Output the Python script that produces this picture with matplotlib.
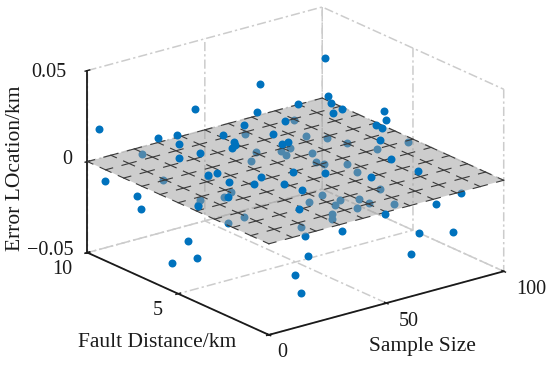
import numpy as np
import matplotlib
matplotlib.use("Agg")
import matplotlib.pyplot as plt
from matplotlib.text import Text

plt.rcParams['font.family'] = ['Liberation Serif', 'DejaVu Serif']

# Points seen above the plane (or clear of it)
above_x = [2.6,27.6,43.8,42.5,19.9,26.7,24.05,21.2,28.6,30.4,36.8,44.5,34.8,36.5,33.7,21.6,20,20.7,31,27.2,
           76.2,81.3,83.3,68.7,82.7,81.2,63.8,76.8,77.6,77.1,76.9,77.8,54.4,51.6,76.2,77.5,61.3,40.3,50.3,35.1,
           36.4,12.7,23.9,1.3,49.9]
above_y = [9.7,7.66,6.14,6.14,8.68,8.52,8.07,7.7,7.51,6.49,6.11,5.52,6.4,6.57,6.42,5.63,5.97,4.85,4.43,4.33,
           6.77,7.26,7.35,7.27,6.68,6.97,7.35,3.62,3.57,4.09,3.74,3.97,5.97,5.94,3.11,1.79,2.32,3.88,3.42,3.71,
           2.9,3.88,1.45,4.1,0.05]
above_z = [.0185,.03,.045,.03,.012,.012,.01,.005,.006,.02,.025,.02,.015,.012,.012,.006,.004,.005,.006,.004,
           .045,.02,.015,.02,.015,.012,.012,.03,.025,.02,.02,.012,.01,.01,.006,.005,.005,.008,.006,.004,
           .004,.004,.004,.002,-.001]

# Points below the plane
below_x = [3,8.6,12.6,16.3,21.6,12,24.2,36.9,79.6,92.1,72.2,87.1,68.3,27.9,30.3,28.95,
           21.1,19.9,63.2,61.2,54.6,34.2,31.2,26.4,18,14.6,20,12.3,85.3,83.8,88.8,90.6,98.3,95.1,72.6,68.4,67.4,
           75.5,71.3,72.2,78.3,76.3,72.7,53.6,61.1,55.4,61.4,67.7,51.2,46,55.3,42.2,29.3,45.1]
below_y = [9.4,8.38,8.67,6.58,6.77,6.9,1.15,.77,1.08,1.33,1.06,1.12,1,1.46,2.49,1.99,
           9.7,8.42,9.52,8.61,8.03,7.8,6.1,5.87,6.15,5.81,3.95,3.83,9.63,8.79,8.28,7.42,5.08,6.36,8.21,8.17,7.76,
           7.38,6.63,6.31,5.83,5.03,3.26,4.02,2.96,3.27,2.44,1.84,2.99,3.75,2.32,2,2.03,2.37]
below_z = [-.0091,-.0146,-.0246,-.034,-.0461,-.0461,-.0091,-.0091,-.0108,-.0102,-.024,-.0292,-.034,-.0229,-.039,-.0462,
           -.002,-.01,-.005,-.01,-.01,-.01,-.01,-.01,-.01,-.01,-.01,-.01,-.005,-.01,-.01,-.01,-.0014,-.01,-.01,-.01,-.01,
           -.01,-.01,-.01,-.01,-.01,-.01,-.01,-.01,-.01,-.01,-.01,-.01,-.01,-.01,-.01,-.01,-.01]

x_ticks = [0, 50, 100]
y_ticks = [0, 5, 10]
y_tick_labels = ['', '5', '10']
z_ticks = [-0.05, 0, 0.05]
z_tick_labels = ['\u22120.05', '0', '0.05']
plane_x = np.arange(0, 101, 10)
plane_y = np.arange(0, 11, 1)
plane_level = 0.0

BLUE = '#0072BD'
GRID = '#cccccc'
DARK = '#1a1a1a'
FS = 15.5
TS = 14.5

W, H = 550, 367
S = 449
cx, cy = 289.5, 177
fig = plt.figure(figsize=(W/100, H/100), dpi=100)
ax = fig.add_axes([(cx-S/2)/W, (H-cy-S/2)/H, S/W, S/H], projection='3d',
                  proj_type='ortho', computed_zorder=False)
ax.set_box_aspect((1, 1, 0.655))
ax.view_init(elev=20.5, azim=-127.7)
ax.set_xlim(0, 100); ax.set_ylim(0, 10); ax.set_zlim(-0.05, 0.05)

ax.set_xticks(x_ticks); ax.set_yticks(y_ticks); ax.set_zticks(z_ticks)
ax.set_yticklabels(y_tick_labels)
ax.set_zticklabels(z_tick_labels)
ax.tick_params(labelsize=TS, colors=DARK)
ax.tick_params(axis='z', pad=4)
ax.tick_params(axis='x', pad=0)
ax.tick_params(axis='y', pad=0)
ax.zaxis.set_ticks_position('upper')
ax.zaxis.set_label_position('upper')

for a in (ax.xaxis, ax.yaxis, ax.zaxis):
    a.set_pane_color((1, 1, 1, 0))
    a.pane.set_edgecolor((1, 1, 1, 0))
    a.line.set_color(DARK)
    a.line.set_linewidth(1.3)
    a._axinfo['grid'].update(color=GRID, linewidth=1.1, linestyle=(0, (6, 2, 1.5, 2)))
    a._axinfo['tick'].update(inward_factor=0.12, outward_factor=0.12)
    a._axinfo['tick']['linewidth'] = {True: 1.0, False: 0.8}
    a._axinfo['tick']['color'] = DARK

ax.set_xlabel('Sample Size', fontsize=FS, labelpad=6, rotation=0, color=DARK)
ax.set_ylabel('Fault Distance/km', fontsize=FS, labelpad=6, rotation=0, color=DARK)
ax.set_zlabel('Error LOcation/km', fontsize=FS, labelpad=10, rotation=90, color=DARK)
ax.xaxis.set_rotate_label(False); ax.yaxis.set_rotate_label(False); ax.zaxis.set_rotate_label(False)

ax.scatter(below_x, below_y, below_z, s=33, color=BLUE, depthshade=False, linewidths=0, zorder=2)

X, Y = np.meshgrid([plane_x[0], plane_x[-1]], [plane_y[0], plane_y[-1]])
Z = np.full_like(X, plane_level, dtype=float)
ax.plot_surface(X, Y, Z, color=(157/255, 157/255, 157/255, 0.5), shade=False, linewidth=0, zorder=3)

hx, hy = 3.0, 0.3
for yv in plane_y:
    xs = []
    for xv in plane_x:
        xs += [max(xv-hx, plane_x[0]), min(xv+hx, plane_x[-1]), np.nan]
    ax.plot(xs, np.full(len(xs), yv), np.full(len(xs), plane_level), color='#3a3a3a', lw=0.8, zorder=4)
for xv in plane_x:
    ys = []
    for yv in plane_y:
        ys += [max(yv-hy, plane_y[0]), min(yv+hy, plane_y[-1]), np.nan]
    ax.plot(np.full(len(ys), xv), ys, np.full(len(ys), plane_level), color='#3a3a3a', lw=0.8, zorder=4)

ax.scatter(above_x, above_y, above_z, s=33, color=BLUE, depthshade=False, linewidths=0, zorder=5)

# Fine placement of the 3D axis texts, in pixels (x right, y down)
K = 0.19 / S
def nudge(text, dx, dy):
    text.set_position = lambda xy: Text.set_position(text, (xy[0] + dx*K, xy[1] - dy*K))

for axis, offsets in ((ax.xaxis, [(5, -4), (13, -4), (18, -4)]),
                      (ax.yaxis, [(0, 0), (-9, -4), (-14, -4)]),
                      (ax.zaxis, [(-7, -10), (9, -10), (-8.5, -6)])):
    for tick, (dx, dy) in zip(axis.get_major_ticks(), offsets):
        nudge(tick.label1, dx, dy)
nudge(ax.xaxis.label, 7, 1)
nudge(ax.yaxis.label, 16, 9)
nudge(ax.zaxis.label, 5, 10)

fig.savefig('out.png', dpi=100)
